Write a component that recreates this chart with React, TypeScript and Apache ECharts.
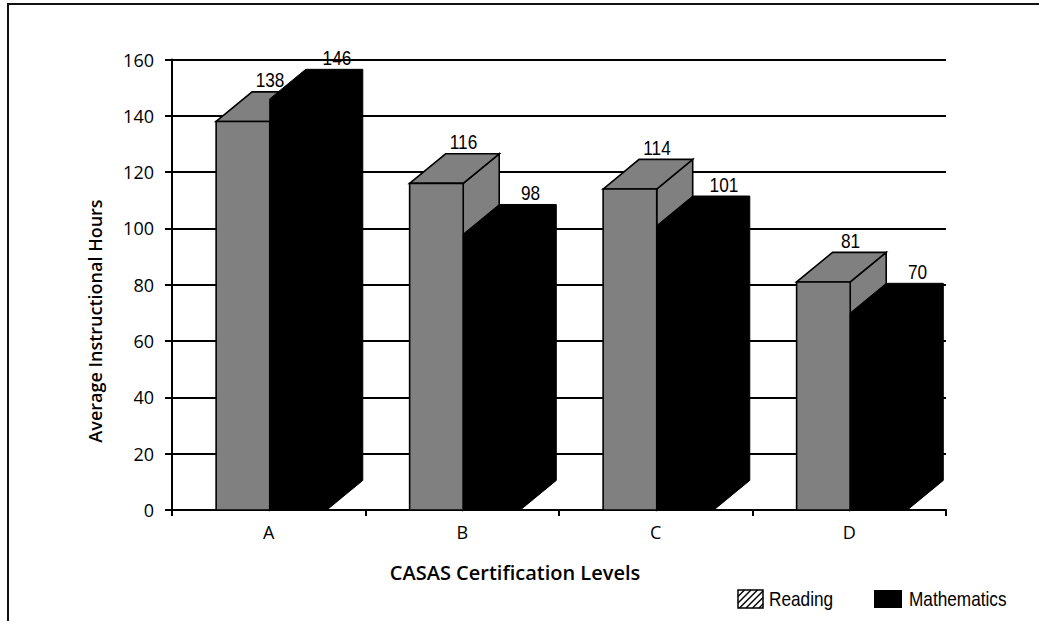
import React, { useEffect, useRef } from "react";
import * as echarts from "echarts";

const categories = ["A", "B", "C", "D"];
const readingValues = [138, 116, 114, 81];
const mathValues = [146, 98, 101, 70];
const yMin = 0;
const yMax = 160;
const yInterval = 20;
const xAxisTitle = "CASAS Certification Levels";
const yAxisTitle = "Average Instructional Hours";
const legendNames = ["Reading", "Mathematics"];

const NARROW = "'Liberation Sans', Arial, sans-serif";
const NARROW_SCALE = 0.82;
const AXISFONT = "'Open Sans', 'DejaVu Sans', sans-serif";

// band fractions for the pseudo-3D bars
const GL = 0.228, GR = 0.505, BR = 0.8, DX = 0.186, DY = 0.153;

function geom(api: any) {
  const idx = api.value(0);
  const v = api.value(1);
  const [cx, yv] = api.coord([idx, v]);
  const base = api.coord([idx, 0])[1];
  const w = api.size([1, 0])[0];
  const x0 = cx - w / 2;
  return { v, yv, base, w, x0, gl: x0 + GL * w, gr: x0 + GR * w, br: x0 + BR * w, dx: DX * w, dy: DY * w };
}

function narrowText(text: string, x: number, y: number, align: string, vAlign: string) {
  return {
    type: "text",
    x,
    y,
    scaleX: NARROW_SCALE,
    z2: 10,
    style: { text, x: 0, y: 0, align, verticalAlign: vAlign, fontFamily: NARROW, fontSize: 21, fill: "#000" },
  };
}

export default function App() {
  const ref = useRef<HTMLDivElement>(null);
  useEffect(() => {
    if (!ref.current) return;
    const chart = echarts.init(ref.current, null, { renderer: "svg" });
    const edge = { fill: "#808080", stroke: "#000", lineWidth: 1.6 };

    // hatch lines for legend icon
    const ix = 738, iy = 590, iw = 25, ih = 18;
    const hatch: any[] = [];
    for (let a = -ih; a < iw; a += 6.5) {
      let x1 = a, y1 = ih, x2 = a + ih, y2 = 0;
      if (x1 < 0) { y1 = ih + x1; x1 = 0; }
      if (x2 > iw) { y2 = x2 - iw; x2 = iw; }
      if (x2 <= x1) continue;
      hatch.push({ type: "line", shape: { x1: ix + x1, y1: iy + y1, x2: ix + x2, y2: iy + y2 }, style: { stroke: "#000", lineWidth: 1.5 } });
    }

    chart.setOption({
      animation: false,
      backgroundColor: "#fff",
      grid: { left: 172, right: 93, top: 59.5, bottom: 111, containLabel: false },
      xAxis: {
        type: "category",
        data: categories,
        axisLine: { lineStyle: { color: "#000", width: 2 } },
        axisTick: { show: true, length: 6, lineStyle: { color: "#000", width: 2 } },
        axisLabel: { color: "#000", fontFamily: AXISFONT, fontSize: 18, margin: 13 },
        splitLine: { show: false },
      },
      yAxis: {
        type: "value",
        min: yMin,
        max: yMax,
        interval: yInterval,
        axisLine: { show: true, lineStyle: { color: "#000", width: 2 } },
        axisTick: { show: true, length: 7, lineStyle: { color: "#000", width: 2 } },
        axisLabel: { color: "#000", fontFamily: AXISFONT, fontSize: 18, margin: 18 },
        splitLine: { show: true, lineStyle: { color: "#000", width: 2 } },
      },
      series: [
        {
          type: "custom",
          name: legendNames[0],
          data: readingValues.map((v, i) => [i, v]),
          renderItem: (_p: any, api: any) => {
            const g = geom(api);
            return {
              type: "group",
              children: [
                { type: "polygon", shape: { points: [[g.gr, g.yv], [g.gr + g.dx, g.yv - g.dy], [g.gr + g.dx, g.base - g.dy], [g.gr, g.base]] }, style: edge },
                { type: "polygon", shape: { points: [[g.gl, g.yv], [g.gl + g.dx, g.yv - g.dy], [g.gr + g.dx, g.yv - g.dy], [g.gr, g.yv]] }, style: edge },
                { type: "rect", shape: { x: g.gl, y: g.yv, width: g.gr - g.gl, height: g.base - g.yv }, style: edge },
                narrowText(String(g.v), (g.gl + g.gr) / 2 + 0.14 * g.w, g.yv - g.dy - 1, "center", "bottom"),
              ],
            };
          },
        },
        {
          type: "custom",
          name: legendNames[1],
          data: mathValues.map((v, i) => [i, v]),
          renderItem: (_p: any, api: any) => {
            const g = geom(api);
            return {
              type: "group",
              children: [
                {
                  type: "polygon",
                  shape: {
                    points: [
                      [g.gr, g.yv],
                      [g.gr + g.dx, g.yv - g.dy],
                      [g.br + g.dx, g.yv - g.dy],
                      [g.br + g.dx, g.base - g.dy],
                      [g.br, g.base],
                      [g.gr, g.base],
                    ],
                  },
                  style: { fill: "#000", stroke: "#000", lineWidth: 1 },
                },
                narrowText(String(g.v), (g.gr + g.br) / 2 + 0.2 * g.w, g.yv - g.dy - 1, "center", "bottom"),
              ],
            };
          },
        },
      ],
      graphic: [
        { type: "line", shape: { x1: 7, y1: 4, x2: 1039, y2: 4 }, style: { stroke: "#111", lineWidth: 2 } },
        { type: "line", shape: { x1: 8, y1: 4, x2: 8, y2: 621 }, style: { stroke: "#111", lineWidth: 2 } },
        {
          type: "text",
          x: 515,
          y: 572,
          style: { text: xAxisTitle, align: "center", verticalAlign: "middle", fontFamily: AXISFONT, fontWeight: 600, fontSize: 20, fill: "#000" },
        },
        {
          type: "text",
          x: 95,
          y: 321,
          rotation: Math.PI / 2,
          style: { text: yAxisTitle, align: "center", verticalAlign: "middle", fontFamily: AXISFONT, fontWeight: 600, fontSize: 18, fill: "#000" },
        },
        { type: "rect", shape: { x: ix, y: iy, width: iw, height: ih }, style: { fill: "#fff", stroke: "#000", lineWidth: 1.5 } },
        ...hatch,
        narrowText(legendNames[0], 769, 599, "left", "middle"),
        { type: "rect", shape: { x: 874, y: 590, width: 28, height: 18 }, style: { fill: "#000" } },
        narrowText(legendNames[1], 909, 599, "left", "middle"),
      ],
    });
    return () => chart.dispose();
  }, []);
  return <div ref={ref} style={{ position: "fixed", left: 0, top: 0, width: 1039, height: 621 }} />;
}
